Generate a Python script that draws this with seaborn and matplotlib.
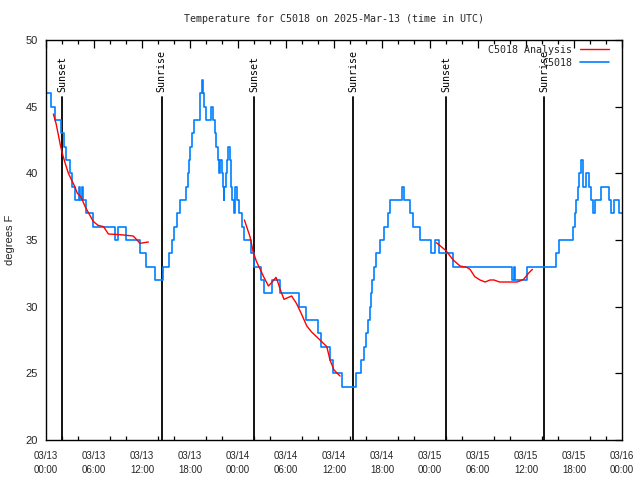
import numpy as np
import pandas as pd
import matplotlib
matplotlib.use("Agg")
import matplotlib.pyplot as plt
import matplotlib.transforms as mtransforms
from matplotlib.lines import Line2D
from matplotlib.ticker import MultipleLocator
import seaborn as sns

# ---------------- data (hours since 2025-03-13 00:00 UTC) ----------------
obs_hours = [0.0, 0.6, 1.1, 1.85, 2.2, 2.55, 2.95, 3.3, 3.6, 4.1, 4.3, 4.45, 4.6, 5.0, 5.9,
             8.6, 9.0, 10.05, 11.7, 12.45, 13.65, 14.65, 15.35, 15.7, 16.0, 16.35, 16.75,
             17.55, 17.7, 17.85, 18.05, 18.25, 18.55, 19.3, 19.45, 19.6, 19.75, 19.95,
             20.65, 20.9, 21.1, 21.3, 21.5, 21.65, 21.8, 21.95, 22.1, 22.2, 22.3, 22.45,
             22.6, 22.75, 22.95, 23.1, 23.3, 23.45, 23.6, 23.85, 24.1, 24.45, 24.7,
             25.6, 26.0, 26.85, 27.2, 28.2, 29.2, 31.6, 32.45, 33.95, 34.4, 35.45, 35.85,
             36.95, 38.7, 39.4, 39.7, 40.0, 40.25, 40.45, 40.65, 40.8, 41.0, 41.25, 41.8,
             42.3, 42.7, 43.0, 44.45, 44.7, 45.45, 45.9, 46.75, 48.15, 48.6, 49.15, 50.9,
             58.2, 58.45, 58.6, 60.15, 63.8, 64.1, 65.9, 66.1, 66.3, 66.5, 66.65, 66.9,
             67.1, 67.45, 67.9, 68.15, 68.4, 68.65, 69.4, 70.4, 70.65, 70.95, 71.6, 72.0]
obs_temps = [46, 45, 44, 43, 42, 41, 40, 39, 38, 39, 38, 39, 38, 37, 36,
             35, 36, 35, 34, 33, 32, 33, 34, 35, 36, 37, 38,
             39, 40, 41, 42, 43, 44, 46, 47, 46, 45, 44,
             45, 44, 43, 42, 41, 40, 41, 40, 39, 38, 39, 40,
             41, 42, 41, 39, 38, 37, 39, 38, 37, 36, 35,
             34, 33, 32, 31, 32, 31, 30, 29, 28, 27, 26, 25,
             24, 25, 26, 27, 28, 29, 30, 31, 32, 33, 34, 35,
             36, 37, 38, 39, 38, 37, 36, 35, 34, 35, 34, 33,
             32, 33, 32, 33, 34, 35, 36, 37, 38, 39, 40, 41,
             39, 40, 39, 38, 37, 38, 39, 38, 37, 38, 37, 37]

ana_segment = [1] * 22 + [2] * 21 + [3] * 16
ana_hours = [0.92, 1.25, 1.54, 1.8, 2.08, 2.4, 2.8, 3.2, 3.6, 3.92, 4.35, 4.9, 5.3, 5.9,
             6.5, 7.2, 7.8, 9.25, 10.9, 11.3, 11.75, 12.8,
             24.8, 25.5, 25.9, 26.3, 27.2, 27.8, 28.2, 28.75, 29.0, 29.3, 29.75, 30.7,
             31.3, 31.9, 32.6, 33.2, 34.25, 35.1, 35.5, 36.0, 36.75,
             48.8, 50.0, 50.9, 51.75, 52.6, 53.0, 53.6, 54.25, 54.9, 55.5, 56.0, 56.7,
             58.9, 59.7, 60.3, 60.8]
ana_temps = [44.45, 43.75, 42.9, 42.1, 41.4, 40.75, 40.0, 39.5, 39.0, 38.5, 38.25, 37.5,
             37.05, 36.4, 36.1, 36.0, 35.45, 35.4, 35.3, 35.05, 34.75, 34.85,
             36.5, 35.25, 34.1, 33.4, 32.25, 31.55, 31.8, 32.2, 31.8, 31.25, 30.55, 30.8,
             30.25, 29.5, 28.55, 28.1, 27.5, 27.0, 26.0, 25.25, 24.8,
             34.8, 34.2, 33.5, 33.05, 32.95, 32.8, 32.25, 32.0, 31.85, 32.0, 32.0, 31.85,
             31.85, 32.05, 32.5, 32.8]

sun_hours = [2.04, 14.45, 26.04, 38.42, 50.06, 62.28]
sun_labels = ["Sunset", "Sunrise", "Sunset", "Sunrise", "Sunset", "Sunrise"]

tick_hours = list(range(0, 73, 6))
tick_labels = ["03/13\n00:00", "03/13\n06:00", "03/13\n12:00", "03/13\n18:00",
               "03/14\n00:00", "03/14\n06:00", "03/14\n12:00", "03/14\n18:00",
               "03/15\n00:00", "03/15\n06:00", "03/15\n12:00", "03/15\n18:00",
               "03/16\n00:00"]
y_ticks = [20, 25, 30, 35, 40, 45, 50]

title = "Temperature for C5018 on 2025-Mar-13 (time in UTC)"
ylabel = "degrees F"
series_names = ["C5018 Analysis", "C5018"]

# ---------------- plot ----------------
sns.set_theme(style="white")
plt.rcParams["font.family"] = ["DejaVu Sans Mono", "DejaVu Sans"]

BLUE = "#0080ff"
RED = "#ff0000"

fig = plt.figure(figsize=(6.4, 4.8), dpi=100)
ax = fig.add_axes([46 / 640, 40 / 480, 576 / 640, 400 / 480])

obs_df = pd.DataFrame({"hour": obs_hours, "temp": obs_temps})
ana_df = pd.DataFrame({"hour": ana_hours, "temp": ana_temps, "seg": ana_segment})

sns.lineplot(data=obs_df, x="hour", y="temp", estimator=None, sort=False,
             color=BLUE, lw=1.2, drawstyle="steps-post", ax=ax, legend=False)
sns.lineplot(data=ana_df, x="hour", y="temp", units="seg", estimator=None, sort=False,
             color=RED, lw=1.0, ax=ax, legend=False)

trans = mtransforms.blended_transform_factory(ax.transData, ax.transAxes)
for h, lab in zip(sun_hours, sun_labels):
    ax.plot([h, h], [0, 0.857], transform=trans, color="black", lw=1.3, zorder=1)
    ax.text(h, 0.87, lab, transform=trans, rotation=90, ha="center", va="bottom",
            fontsize=7.2, family="DejaVu Sans Mono", color="black")

ax.set_xlim(0, 72)
ax.set_ylim(20, 50)
ax.set_xticks(tick_hours)
ax.set_xticklabels(tick_labels, fontsize=7, family="Liberation Sans", linespacing=1.45)
ax.xaxis.set_minor_locator(MultipleLocator(2))
ax.set_yticks(y_ticks)
ax.set_yticklabels([str(v) for v in y_ticks], fontsize=8, family="Liberation Sans")
ax.tick_params(which="major", direction="in", top=True, right=True, length=6,
               width=0.9, color="black")
ax.tick_params(axis="x", which="major", pad=8)
ax.tick_params(axis="y", which="major", length=5, pad=6)
ax.tick_params(which="minor", direction="in", top=True, bottom=True, length=3,
               width=0.9, color="black")
for s in ax.spines.values():
    s.set_color("black")
    s.set_linewidth(1.0)

ax.set_xlabel("")
ax.set_ylabel("")
fig.text(10 / 640, 1 - 240 / 480, ylabel, rotation=90, ha="center", va="center",
         fontsize=8, family="Liberation Sans")
ax.set_title(title, fontsize=7.2, family="DejaVu Sans Mono", pad=13)

handles = [Line2D([], [], color=RED, lw=1.0), Line2D([], [], color=BLUE, lw=1.2)]
ax.legend(handles, series_names, loc="upper right", bbox_to_anchor=(1 - 8 / 576, 1),
          frameon=False, markerfirst=False,
          handlelength=2.9, handletextpad=0.8, labelspacing=0.3,
          borderaxespad=0.2, borderpad=0.3, prop={"family": "DejaVu Sans Mono", "size": 7.2})

fig.savefig("out.png", dpi=100)
